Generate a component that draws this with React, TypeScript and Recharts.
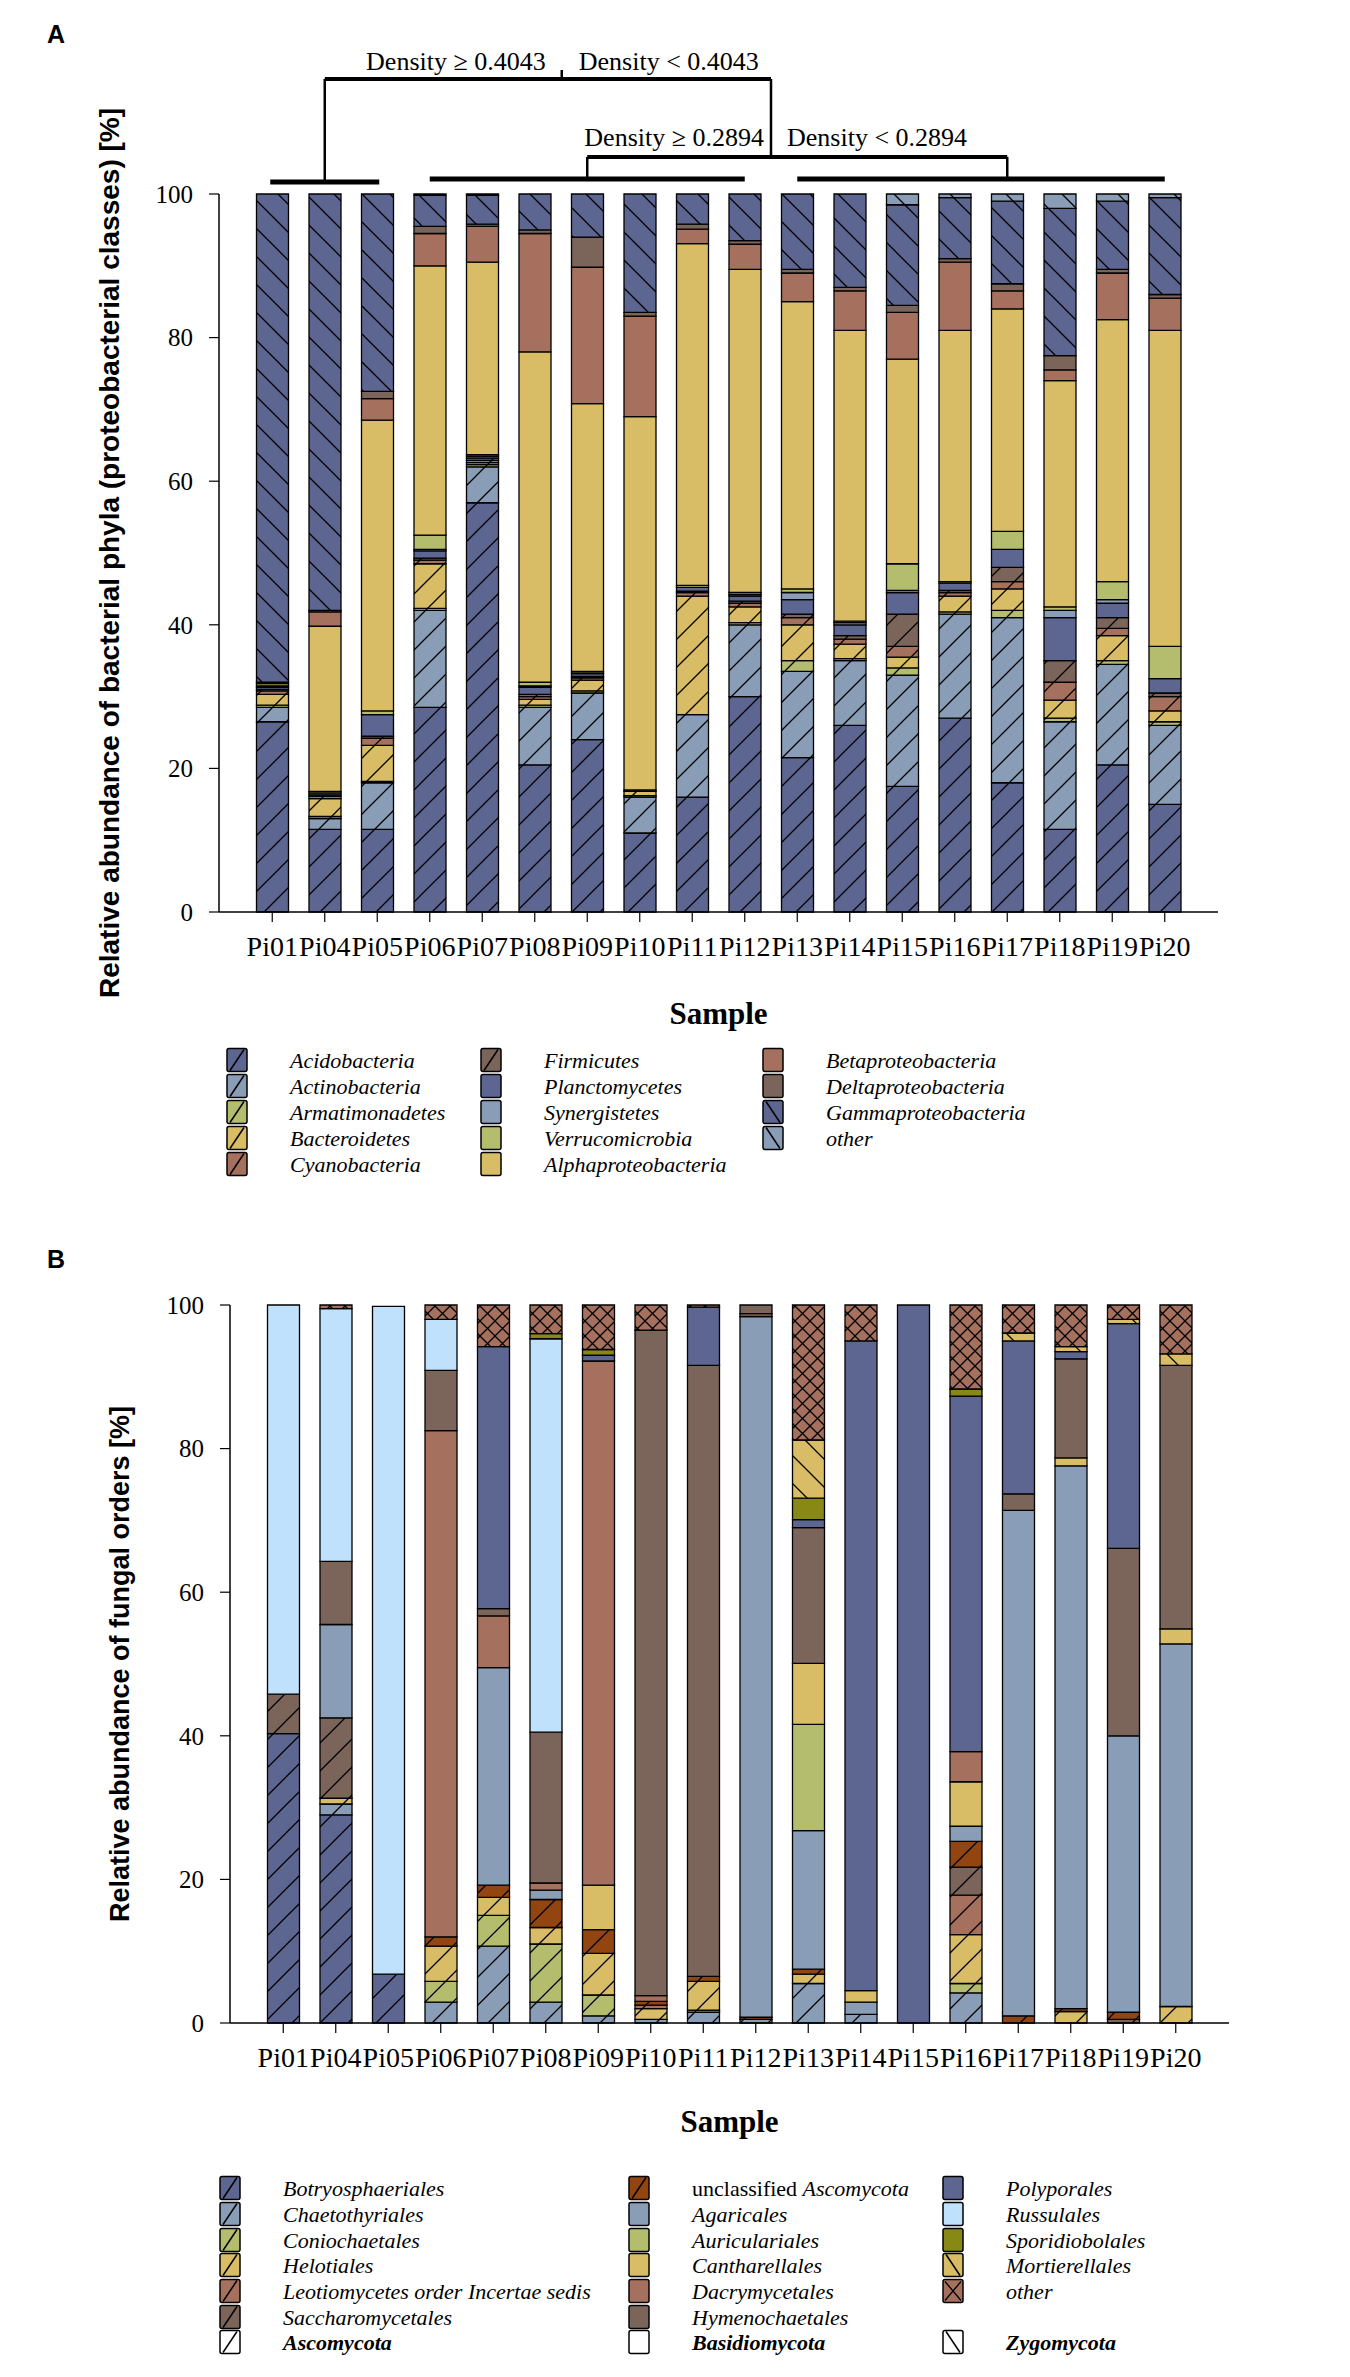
import React from 'react';
import { BarChart, Bar, XAxis, YAxis } from 'recharts';

const samples = ['Pi01', 'Pi04', 'Pi05', 'Pi06', 'Pi07', 'Pi08', 'Pi09', 'Pi10', 'Pi11', 'Pi12', 'Pi13', 'Pi14', 'Pi15', 'Pi16', 'Pi17', 'Pi18', 'Pi19', 'Pi20'];

// panel A: bacterial phyla / proteobacterial classes [%]
const acidobacteria = [26.5, 11.5, 11.5, 28.5, 57, 20.5, 24, 11, 16, 30, 21.5, 26, 17.5, 27, 18, 11.5, 20.5, 15];
const actinobacteria = [2, 1.5, 6.5, 13.5, 5, 8, 6.5, 5, 11.5, 10, 12, 9, 15.5, 14.5, 23, 15, 14, 11];
const armatimonadetes = [0.3, 0.3, 0.2, 0.3, 0.3, 0.3, 0.3, 0.2, 0, 0.3, 1.5, 0.3, 1, 0.3, 1, 0.5, 0.5, 0.5];
const bacteroidetes = [1.5, 2.5, 5, 6.2, 0.3, 0.8, 1.5, 0.6, 16.5, 2.2, 5, 2, 1.5, 2.2, 3, 2.5, 3.5, 1.5];
const cyanobacteria = [0.5, 0.3, 1, 0.5, 0.3, 0.4, 0.3, 0.2, 0.5, 0.5, 1, 0.7, 1.5, 0.5, 1, 2.5, 1, 2];
const firmicutes = [0.2, 0.2, 0.3, 0.3, 0.3, 0.3, 0.2, 0, 0.2, 0.3, 0.5, 0.5, 4.5, 0.3, 2, 3, 1.5, 0.5];
const planctomycetes = [0.3, 0.3, 3, 1, 0.3, 1, 0.4, 0, 0.5, 0.7, 2, 1.5, 3, 1, 2.5, 6, 2, 2];
const synergistetes = [0, 0, 0, 0.2, 0, 0.2, 0.1, 0, 0, 0.2, 1, 0.3, 0.3, 0, 0, 1, 0.5, 0];
const verrucomicrobia = [0.2, 0.2, 0.5, 2, 0.2, 0.5, 0.2, 0, 0.3, 0.3, 0.5, 0.2, 3.7, 0.2, 2.5, 0.5, 2.5, 4.5];
const alphaproteobacteria = [0.3, 23, 40.5, 37.5, 26.8, 46, 37.3, 52, 47.6, 45, 40, 40.5, 28.5, 35, 31, 31.5, 36.5, 44];
const betaproteobacteria = [0.2, 2, 3, 4.5, 5, 16.5, 19, 14, 2, 3.5, 4, 5.5, 6.5, 9.5, 2.5, 1.5, 6.5, 4.5];
const deltaproteobacteria = [0, 0.2, 1, 1, 0.3, 0.5, 4.2, 0.5, 0.7, 0.5, 0.5, 0.5, 1, 0.5, 1, 2, 0.5, 0.5];
const gammaproteobacteria = [68, 58, 27.5, 4.3, 4, 5, 6, 16.5, 4.2, 6.5, 10.5, 13, 14, 8.5, 11.5, 20.5, 9.5, 13.5];
const otherBacteria = [0, 0, 0, 0.2, 0.2, 0, 0, 0, 0, 0, 0, 0, 1.5, 0.5, 1, 2, 1, 0.5];

// panel B: fungal orders [%]
const botryosphaeriales = [40.3, 29, 6.8, 0, 0, 0, 0, 0, 0, 0, 0, 0, 0, 0, 0, 0, 0, 0];
const chaetothyriales = [0, 1.5, 0, 2.9, 10.7, 2.9, 1, 0.5, 1.5, 0.5, 5.5, 1.2, 0, 4.2, 0, 0, 0, 0];
const coniochaetales = [0, 0, 0, 2.9, 4.3, 8.1, 2.9, 0, 0.3, 0, 0, 0, 0, 1.3, 0, 0, 0, 0];
const helotiales = [0, 0.8, 0, 4.9, 2.5, 2.3, 5.8, 1.5, 4, 0, 1.3, 0, 0, 6.8, 0, 1.6, 0, 2.3];
const leotiomycetesIS = [0, 0, 0, 0, 0, 0, 0, 0.5, 0, 0, 0, 0, 0, 5.5, 0, 0, 0, 0];
const saccharomycetales = [5.5, 11.2, 0, 0, 0, 0, 0, 0, 0, 0, 0, 0, 0, 3.9, 0, 0, 0.5, 0];
const unclassifiedAsco = [0, 0, 0, 1.3, 1.7, 3.9, 3.3, 0.5, 0.7, 0.3, 0.7, 0, 0, 3.6, 1, 0.4, 1, 0];
const agaricales = [0, 13, 0, 0, 30.3, 1.3, 0, 0, 0, 97.6, 19.3, 1.7, 0, 2.1, 70.4, 75.6, 38.5, 50.5];
const auriculariales = [0, 0, 0, 0, 0, 0, 0, 0, 0, 0, 14.8, 0, 0, 0, 0, 0, 0, 0];
const cantharellales = [0, 0, 0, 0, 0, 0, 6.2, 0, 0, 0, 8.5, 1.6, 0, 6.2, 0, 1.1, 0, 2.1];
const dacrymycetales = [0, 0, 0, 70.5, 7.2, 1, 73, 0.8, 0, 0.4, 0, 0, 0, 4.2, 0, 0, 0, 0];
const hymenochaetales = [0, 8.8, 0, 8.4, 1, 21, 0, 92.7, 85.1, 1.2, 18.9, 0, 0, 0, 2.3, 13.8, 26.1, 36.7];
const polyporales = [0, 0, 0, 0, 36.5, 0, 0.8, 0, 8.1, 0, 1.1, 90.5, 100, 49.5, 21.3, 1, 31.3, 0];
const russulales = [54.2, 35.2, 93, 7.1, 0, 54.8, 0, 0, 0, 0, 0, 0, 0, 0, 0, 0, 0, 0];
const sporidiobolales = [0, 0, 0, 0, 0, 0.7, 0.8, 0, 0, 0, 3, 0, 0, 1, 0, 0, 0, 0];
const mortierellales = [0, 0, 0, 0, 0, 0, 0, 0, 0, 0, 8.1, 0, 0, 0, 1.1, 0.7, 0.6, 1.6];
const otherFungi = [0, 0.5, 0, 2, 5.8, 4, 6.2, 3.5, 0.3, 0, 18.8, 5, 0, 11.7, 3.9, 5.8, 2, 6.8];

const yTicks = [0, 20, 40, 60, 80, 100];

const SLATE = '#5c6691';
const STEEL = '#8a9db6';
const GREEN = '#b4bc6d';
const GOLD = '#d8bc66';
const ROSE = '#a5705d';
const TAUPE = '#7b645a';
const RUST = '#934511';
const SKY = '#c0e1fb';
const OLIVE = '#878914';

const SERIF = '"Liberation Serif", "Times New Roman", serif';
const SANS = '"Liberation Sans", Arial, sans-serif';

const seriesA = [
  { key: 'acido', name: 'Acidobacteria', color: SLATE, hatch: 'fwd', values: acidobacteria },
  { key: 'actino', name: 'Actinobacteria', color: STEEL, hatch: 'fwd', values: actinobacteria },
  { key: 'armat', name: 'Armatimonadetes', color: GREEN, hatch: 'fwd', values: armatimonadetes },
  { key: 'bacter', name: 'Bacteroidetes', color: GOLD, hatch: 'fwd', values: bacteroidetes },
  { key: 'cyano', name: 'Cyanobacteria', color: ROSE, hatch: 'fwd', values: cyanobacteria },
  { key: 'firm', name: 'Firmicutes', color: TAUPE, hatch: 'fwd', values: firmicutes },
  { key: 'plancto', name: 'Planctomycetes', color: SLATE, hatch: 'none', values: planctomycetes },
  { key: 'syner', name: 'Synergistetes', color: STEEL, hatch: 'none', values: synergistetes },
  { key: 'verruco', name: 'Verrucomicrobia', color: GREEN, hatch: 'none', values: verrucomicrobia },
  { key: 'alpha', name: 'Alphaproteobacteria', color: GOLD, hatch: 'none', values: alphaproteobacteria },
  { key: 'beta', name: 'Betaproteobacteria', color: ROSE, hatch: 'none', values: betaproteobacteria },
  { key: 'delta', name: 'Deltaproteobacteria', color: TAUPE, hatch: 'none', values: deltaproteobacteria },
  { key: 'gamma', name: 'Gammaproteobacteria', color: SLATE, hatch: 'back', values: gammaproteobacteria },
  { key: 'otherA', name: 'other', color: STEEL, hatch: 'back', values: otherBacteria },
];

const seriesB = [
  { key: 'botryo', name: 'Botryosphaeriales', color: SLATE, hatch: 'fwd', values: botryosphaeriales },
  { key: 'chaeto', name: 'Chaetothyriales', color: STEEL, hatch: 'fwd', values: chaetothyriales },
  { key: 'conio', name: 'Coniochaetales', color: GREEN, hatch: 'fwd', values: coniochaetales },
  { key: 'helot', name: 'Helotiales', color: GOLD, hatch: 'fwd', values: helotiales },
  { key: 'leotio', name: 'Leotiomycetes order Incertae sedis', color: ROSE, hatch: 'fwd', values: leotiomycetesIS },
  { key: 'sacch', name: 'Saccharomycetales', color: TAUPE, hatch: 'fwd', values: saccharomycetales },
  { key: 'unclass', name: 'unclassified ', nameItalic: 'Ascomycota', color: RUST, hatch: 'fwd', values: unclassifiedAsco },
  { key: 'agar', name: 'Agaricales', color: STEEL, hatch: 'none', values: agaricales },
  { key: 'auric', name: 'Auriculariales', color: GREEN, hatch: 'none', values: auriculariales },
  { key: 'canth', name: 'Cantharellales', color: GOLD, hatch: 'none', values: cantharellales },
  { key: 'dacry', name: 'Dacrymycetales', color: ROSE, hatch: 'none', values: dacrymycetales },
  { key: 'hymeno', name: 'Hymenochaetales', color: TAUPE, hatch: 'none', values: hymenochaetales },
  { key: 'polyp', name: 'Polyporales', color: SLATE, hatch: 'none', values: polyporales },
  { key: 'russ', name: 'Russulales', color: SKY, hatch: 'none', values: russulales },
  { key: 'sporid', name: 'Sporidiobolales', color: OLIVE, hatch: 'none', values: sporidiobolales },
  { key: 'mort', name: 'Mortierellales', color: GOLD, hatch: 'back', values: mortierellales },
  { key: 'otherB', name: 'other', color: ROSE, hatch: 'cross', values: otherFungi },
];

const phylumKeys = [
  { name: 'Ascomycota', hatch: 'fwd' },
  { name: 'Basidiomycota', hatch: 'none' },
  { name: 'Zygomycota', hatch: 'back' },
];

const buildRows = (series) =>
  samples.map((s, i) => {
    const row = { sample: s };
    series.forEach((se) => { row[se.key] = se.values[i]; });
    return row;
  });

const dataA = buildRows(seriesA);
const dataB = buildRows(seriesB);

// layout (page pixels)
const CHART_W = 1350;
const CHART_H = 1000;
const PLOT_W = 999;
const PAD = 27;
const BAND = (PLOT_W - 2 * PAD) / samples.length;
const A_LEFT = 219;
const A_TOP = 194;
const B_LEFT = 230;
const B_TOP_OFFSET = 1111; // chart B container top
const MARGIN_TOP = 194;
const Y_AXIS_W = 60;

const xCenter = (left, i) => left + PAD + BAND * (i + 0.5);

const fillFor = (se) => (se.hatch === 'none' ? se.color : `url(#p-${se.key})`);

function Pattern({ id, color, hatch }) {
  const s = hatch === 'cross' ? 15 : 28;
  let d = '';
  if (hatch === 'fwd') d = `M0,${s} L${s},0 M-3,3 L3,-3 M${s - 3},${s + 3} L${s + 3},${s - 3}`;
  if (hatch === 'back') d = `M0,0 L${s},${s} M-3,${s - 3} L3,${s + 3} M${s - 3},-3 L${s + 3},3`;
  if (hatch === 'cross') d = `M0,0 L${s},${s} M0,${s} L${s},0`;
  return (
    <pattern id={id} patternUnits="userSpaceOnUse" width={s} height={s}>
      <rect width={s} height={s} fill={color} />
      <path d={d} stroke="#000" strokeWidth={1.3} fill="none" />
    </pattern>
  );
}

function StackedPanel({ data, series, left }) {
  return (
    <BarChart
      width={CHART_W}
      height={CHART_H}
      data={data}
      margin={{ top: MARGIN_TOP, left: left - Y_AXIS_W, right: CHART_W - left - PLOT_W, bottom: 28 }}
      barCategoryGap="20%"
    >
      <XAxis
        dataKey="sample"
        interval={0}
        height={60}
        padding={{ left: PAD, right: PAD }}
        axisLine={{ stroke: '#000', strokeWidth: 1.5 }}
        tickLine={{ stroke: '#000', strokeWidth: 1.2 }}
        tickSize={10}
        tickMargin={14}
        tick={{ fill: '#000', fontSize: 28, fontFamily: SERIF }}
      />
      <XAxis
        xAxisId="top"
        orientation="top"
        dataKey="sample"
        height={0}
        padding={{ left: PAD, right: PAD }}
        tick={false}
        tickLine={false}
        axisLine={{ stroke: '#000', strokeWidth: 1.5 }}
      />
      <YAxis
        domain={[0, 100]}
        ticks={yTicks}
        width={Y_AXIS_W}
        axisLine={{ stroke: '#000', strokeWidth: 1.5 }}
        tickLine={{ stroke: '#000', strokeWidth: 1.2 }}
        tickSize={10}
        tickMargin={16}
        tick={{ fill: '#000', fontSize: 25, fontFamily: SERIF }}
      />
      <YAxis
        yAxisId="right"
        orientation="right"
        domain={[0, 100]}
        width={0}
        tick={false}
        tickLine={false}
        axisLine={{ stroke: '#000', strokeWidth: 1.5 }}
      />
      {series.map((se) => (
        <Bar
          key={se.key}
          dataKey={se.key}
          name={se.name}
          stackId="s"
          fill={fillFor(se)}
          stroke="#000"
          strokeWidth={1.3}
          isAnimationActive={false}
        />
      ))}
    </BarChart>
  );
}

const SW_W = 20;
const SW_H = 23;

function Swatch({ x, y, color, hatch }) {
  const w = SW_W;
  const h = SW_H;
  return (
    <g>
      <rect x={x} y={y} width={w} height={h} rx={2} fill={color} stroke="#000" strokeWidth={1.5} />
      {hatch === 'fwd' && <line x1={x + 3} y1={y + h - 1} x2={x + w - 3} y2={y + 1} stroke="#000" strokeWidth={1.5} />}
      {hatch === 'back' && <line x1={x + 3} y1={y + 1} x2={x + w - 3} y2={y + h - 1} stroke="#000" strokeWidth={1.5} />}
      {hatch === 'cross' && (
        <path d={`M${x + 2},${y + 2} L${x + w - 2},${y + h - 2} M${x + 2},${y + h - 2} L${x + w - 2},${y + 2}`} stroke="#000" strokeWidth={1.3} />
      )}
    </g>
  );
}

const TEXT_OFF = 63;

function LegendGrid({ series, perCol, cols, rows }) {
  return (
    <g>
      {series.map((se, i) => {
        const c = i < perCol[0] ? 0 : i < perCol[0] + perCol[1] ? 1 : 2;
        const r = c === 0 ? i : c === 1 ? i - perCol[0] : i - perCol[0] - perCol[1];
        const cy = rows[r];
        return (
          <g key={se.key}>
            <Swatch x={cols[c]} y={cy - SW_H / 2} color={se.color} hatch={se.hatch} />
            <text x={cols[c] + TEXT_OFF} y={cy + 8} fontFamily={SERIF} fontSize={22} fill="#000">
              {se.nameItalic ? (
                <>
                  <tspan>{se.name}</tspan>
                  <tspan fontStyle="italic">{se.nameItalic}</tspan>
                </>
              ) : (
                <tspan fontStyle="italic">{se.name}</tspan>
              )}
            </text>
          </g>
        );
      })}
    </g>
  );
}

export default function App() {
  const xa = (i) => xCenter(A_LEFT, i);
  const splitA = (xa(9) + xa(10)) / 2;
  const midTick = xa(5) + 27;
  const legendRowsA = [1060, 1086, 1112, 1138, 1164];
  const legendRowsB = [2188, 2214, 2240, 2265, 2291, 2317];
  const phylumRow = 2342;
  const colsA = [227, 481, 763];
  const colsB = [220, 629, 943];
  const bPlotTop = B_TOP_OFFSET + MARGIN_TOP;
  const bPlotBottom = B_TOP_OFFSET + CHART_H - 88;

  return (
    <div style={{ position: 'absolute', left: 0, top: 0, width: 1350, height: 2377, background: '#fff' }}>
      <svg width={0} height={0} style={{ position: 'absolute' }}>
        <defs>
          {[...seriesA, ...seriesB]
            .filter((se) => se.hatch !== 'none')
            .map((se) => (
              <Pattern key={se.key} id={`p-${se.key}`} color={se.color} hatch={se.hatch} />
            ))}
        </defs>
      </svg>

      <div style={{ position: 'absolute', left: 0, top: 0 }}>
        <StackedPanel data={dataA} series={seriesA} left={A_LEFT} />
      </div>
      <div style={{ position: 'absolute', left: 0, top: B_TOP_OFFSET }}>
        <StackedPanel data={dataB} series={seriesB} left={B_LEFT} />
      </div>

      <svg width={1350} height={2377} style={{ position: 'absolute', left: 0, top: 0, pointerEvents: 'none' }}>
        {/* panel letters */}
        <text x={47} y={43} fontFamily={SANS} fontWeight="bold" fontSize={25}>A</text>
        <text x={47} y={1268} fontFamily={SANS} fontWeight="bold" fontSize={25}>B</text>

        {/* dendrogram above panel A */}
        <g stroke="#000" fill="none">
          <line x1={xa(1)} y1={79} x2={splitA} y2={79} strokeWidth={4} />
          <line x1={midTick} y1={70} x2={midTick} y2={79} strokeWidth={2.5} />
          <line x1={xa(1)} y1={79} x2={xa(1)} y2={182} strokeWidth={2.5} />
          <line x1={xa(0) - 2} y1={182} x2={xa(2) + 2} y2={182} strokeWidth={5} />
          <line x1={splitA} y1={79} x2={splitA} y2={157} strokeWidth={2.5} />
          <line x1={xa(6)} y1={157} x2={xa(14)} y2={157} strokeWidth={4} />
          <line x1={xa(6)} y1={157} x2={xa(6)} y2={179} strokeWidth={2.5} />
          <line x1={xa(14)} y1={157} x2={xa(14)} y2={179} strokeWidth={2.5} />
          <line x1={xa(3)} y1={179} x2={xa(9)} y2={179} strokeWidth={5} />
          <line x1={xa(10)} y1={179} x2={xa(17)} y2={179} strokeWidth={5} />
        </g>
        <g fontFamily={SERIF} fontSize={26} fill="#000">
          <text x={midTick - 16} y={70} textAnchor="end">Density ≥ 0.4043</text>
          <text x={midTick + 17} y={70}>Density &lt; 0.4043</text>
          <text x={splitA - 7} y={146} textAnchor="end">Density ≥ 0.2894</text>
          <text x={splitA + 16} y={146}>Density &lt; 0.2894</text>
        </g>

        {/* axis titles */}
        <text
          transform={`translate(112, ${(A_TOP + 912) / 2}) rotate(-90)`}
          textAnchor="middle"
          dominantBaseline="middle"
          fontFamily={SANS}
          fontWeight="bold"
          fontSize={28}
        >
          Relative abundance of bacterial phyla (proteobacterial classes) [%]
        </text>
        <text x={A_LEFT + PLOT_W / 2} y={1024} textAnchor="middle" fontFamily={SERIF} fontWeight="bold" fontSize={31}>
          Sample
        </text>
        <text
          transform={`translate(122, ${(bPlotTop + bPlotBottom) / 2}) rotate(-90)`}
          textAnchor="middle"
          dominantBaseline="middle"
          fontFamily={SANS}
          fontWeight="bold"
          fontSize={27}
        >
          Relative abundance of fungal orders [%]
        </text>
        <text x={B_LEFT + PLOT_W / 2} y={2132} textAnchor="middle" fontFamily={SERIF} fontWeight="bold" fontSize={31}>
          Sample
        </text>

        {/* legends */}
        <LegendGrid series={seriesA} perCol={[5, 5, 4]} cols={colsA} rows={legendRowsA} />
        <LegendGrid series={seriesB} perCol={[6, 6, 5]} cols={colsB} rows={legendRowsB} />
        {phylumKeys.map((p, i) => (
          <g key={p.name}>
            <Swatch x={colsB[i]} y={phylumRow - SW_H / 2} color="#fff" hatch={p.hatch} />
            <text x={colsB[i] + TEXT_OFF} y={phylumRow + 8} fontFamily={SERIF} fontSize={22} fontWeight="bold" fontStyle="italic">
              {p.name}
            </text>
          </g>
        ))}
      </svg>
    </div>
  );
}
